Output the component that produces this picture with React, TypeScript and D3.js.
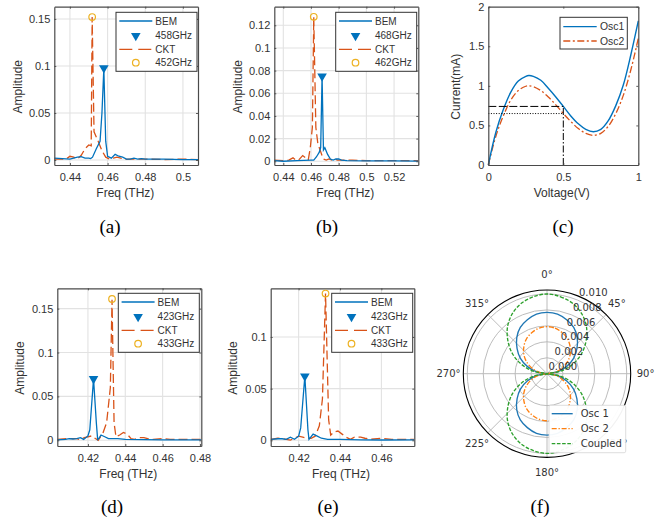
import React, { useEffect, useRef } from 'react';
import * as d3 from 'd3';

// spectra: [freq THz, amplitude]
const bemA = [[0.4317,0.002],[0.436,0.0015],[0.44,0.001],[0.442,0.002],[0.444,0.003],[0.446,0.0035],[0.448,0.002],[0.45,0.002],[0.451,0.0015],[0.452,0.003],[0.454,0.012],[0.456,0.02],[0.457,0.05],[0.458,0.097],[0.459,0.02],[0.46,0.004],[0.462,0.002],[0.464,0.006],[0.466,0.004],[0.468,0.003],[0.47,0.001],[0.472,0.001],[0.474,0.002],[0.476,0.001],[0.478,0.0015],[0.48,0.001],[0.49,0.001],[0.5,0.0005],[0.508,0.0005]];
const cktA = [[0.4317,0.001],[0.436,0.001],[0.438,0.001],[0.44,0.004],[0.442,0.003],[0.444,0.001],[0.446,0.005],[0.448,0.012],[0.45,0.016],[0.4513,0.015],[0.4518,0.152],[0.4528,0.03],[0.455,0.02],[0.457,0.01],[0.459,0.003],[0.461,0.001],[0.463,0.002],[0.465,0.003],[0.467,0.002],[0.469,0.0005],[0.472,0.001],[0.48,0.001],[0.49,0.0005],[0.5,0.001],[0.508,0.0005]];
const bemB = [[0.4335,0.0005],[0.44,0],[0.45,0.0005],[0.455,0.0008],[0.46,0.001],[0.462,0.001],[0.464,0.004],[0.466,0.008],[0.467,0.012],[0.468,0.075],[0.469,0.01],[0.47,0.012],[0.472,0.006],[0.474,0.002],[0.476,0.001],[0.478,0.002],[0.48,0.002],[0.482,0.001],[0.486,0.0005],[0.5,0.0003],[0.52,0.0003],[0.5375,0.0002]];
const cktB = [[0.4335,0.001],[0.44,0.0005],[0.444,0.001],[0.447,0.003],[0.449,0.001],[0.451,0.001],[0.454,0.005],[0.456,0.003],[0.458,0.001],[0.4595,0.012],[0.461,0.03],[0.462,0.127],[0.4635,0.03],[0.465,0.015],[0.466,0.012],[0.468,0.005],[0.469,0.002],[0.471,0.001],[0.473,0.002],[0.475,0.001],[0.477,0.002],[0.479,0.001],[0.49,0.001],[0.5,0.0005],[0.52,0.0005],[0.5375,0.0005]];
const bemD = [[0.4036,0.0005],[0.408,0.001],[0.41,0.002],[0.412,0.0015],[0.414,0.002],[0.416,0.003],[0.4177,0.001],[0.42,0.005],[0.421,0.012],[0.423,0.07],[0.4245,0.02],[0.4252,0.001],[0.4258,0.002],[0.427,0.006],[0.429,0.004],[0.431,0.002],[0.434,0.002],[0.436,0.002],[0.44,0.001],[0.45,0.0008],[0.46,0.0005],[0.47,0.0005],[0.4807,0.0005]];
const cktD = [[0.4036,0.001],[0.41,0.002],[0.414,0.002],[0.416,0.0005],[0.418,0.003],[0.42,0.004],[0.422,0.005],[0.424,0.002],[0.4255,0],[0.428,0.008],[0.43,0.02],[0.432,0.06],[0.4329,0.16],[0.434,0.02],[0.435,0.004],[0.437,0.006],[0.439,0.009],[0.441,0.007],[0.443,0.002],[0.445,0.001],[0.447,0.003],[0.45,0.003],[0.452,0.002],[0.455,0.001],[0.46,0.002],[0.464,0.001],[0.47,0.001],[0.4807,0.001]];
const bemE = [[0.4065,0.001],[0.41,0.0015],[0.412,0.0015],[0.414,0.001],[0.416,0.003],[0.418,0.001],[0.42,0.004],[0.421,0.012],[0.423,0.062],[0.4245,0.01],[0.425,0.001],[0.427,0.006],[0.429,0.004],[0.431,0.002],[0.434,0.001],[0.44,0.001],[0.45,0.0005],[0.46,0.0003],[0.4759,0.0005]];
const cktE = [[0.4065,0.001],[0.41,0.002],[0.414,0.001],[0.416,0.0002],[0.418,0.002],[0.42,0.004],[0.422,0.003],[0.424,0.002],[0.426,0.002],[0.428,0.004],[0.43,0.014],[0.4315,0.04],[0.433,0.142],[0.4345,0.02],[0.4355,0.005],[0.437,0.008],[0.439,0.009],[0.441,0.006],[0.443,0.003],[0.445,0.001],[0.447,0.003],[0.45,0.003],[0.452,0.002],[0.455,0.001],[0.46,0.002],[0.465,0.001],[0.47,0.001],[0.4759,0.001]];

const voltage = [0,0.05,0.1,0.15,0.2,0.25,0.27,0.3,0.35,0.4,0.45,0.5,0.55,0.6,0.65,0.7,0.75,0.8,0.85,0.9,0.95,1];
const osc1Current = [0,0.41,0.7,0.92,1.06,1.12,1.13,1.12,1.07,0.97,0.86,0.74,0.62,0.52,0.45,0.42,0.45,0.56,0.75,1.01,1.39,1.82];
const osc2Current = [0,0.36,0.62,0.82,0.94,0.995,1,0.99,0.94,0.86,0.76,0.65,0.55,0.46,0.4,0.375,0.4,0.49,0.65,0.88,1.2,1.6];

// polar lobes, sampled every 10 degrees across half a turn
const polarAngles = d3.range(0, 360, 10);
const osc1Lobe = [0.0077,0.0076,0.0072,0.0067,0.0059,0.0049,0.00385,0.0026,0.0013,0,0.0013,0.0026,0.00385,0.0049,0.0059,0.0067,0.0072,0.0076];
const osc2Lobe = [0.0059,0.0058,0.0055,0.0051,0.0045,0.0038,0.00295,0.002,0.001,0,0.001,0.002,0.00295,0.0038,0.0045,0.0051,0.0055,0.0058];
const coupledLobe = [0.01,0.0098,0.0094,0.0087,0.0077,0.0064,0.005,0.0034,0.0017,0,0.0017,0.0034,0.005,0.0064,0.0077,0.0087,0.0094,0.0098];
const polarRings = [0.002,0.004,0.006,0.008,0.01];
const polarRingLabels = ['0.000','0.002','0.004','0.006','0.008','0.010'];
const polarSpokes = [0,45,90,135,180,225,270,315];

const BLUE = '#0072BD';
const ORANGE = '#D95319';
const YELLOW = '#EDB120';
const INK = '#333333';
const SANS = '"Liberation Sans", Arial, sans-serif';
const CKT_DASH = '9 4';

const spectra = [
  { x0: 54.3, x1: 198, y0: 6.7, y1: 165, xd: [0.4317, 0.508], yd: [-0.0053, 0.163], xt: [0.44,0.46,0.48,0.5], yt: [0,0.05,0.1,0.15], bem: bemA, ckt: cktA, names: ['458GHz','452GHz'], peakA: [0.458,0.0979], peakB: [0.4518,0.152], lx: 116, ly: 12.3, ylx: 22, xlx: 125.3, yly: 86.7 },
  { x0: 274.3, x1: 418.3, y0: 6.7, y1: 165, xd: [0.4335, 0.5375], yd: [-0.0033, 0.1364], xt: [0.44,0.46,0.48,0.5,0.52], yt: [0,0.02,0.04,0.06,0.08,0.1,0.12], bem: bemB, ckt: cktB, names: ['468GHz','462GHz'], peakA: [0.468,0.075], peakB: [0.462,0.1275], lx: 335.7, ly: 12.3, ylx: 242, xlx: 345.3, yly: 86.7 },
  { x0: 57.3, x1: 201.3, y0: 288.3, y1: 446, xd: [0.4036, 0.4807], yd: [-0.0065, 0.1732], xt: [0.42,0.44,0.46,0.48], yt: [0,0.05,0.1,0.15], bem: bemD, ckt: cktD, names: ['423GHz','433GHz'], peakA: [0.423,0.07], peakB: [0.4329,0.161], lx: 118.3, ly: 293.3, ylx: 24.3, xlx: 128.3, yly: 368 },
  { x0: 270.7, x1: 414.3, y0: 288.3, y1: 446, xd: [0.4065, 0.4759], yd: [-0.0055, 0.1471], xt: [0.42,0.44,0.46], yt: [0,0.05,0.1], bem: bemE, ckt: cktE, names: ['423GHz','433GHz'], peakA: [0.423,0.062], peakB: [0.433,0.142], lx: 331.7, ly: 293.3, ylx: 237.3, xlx: 341, yly: 368 },
];

const captions = [
  { t: '(a)', x: 110, y: 233 }, { t: '(b)', x: 327, y: 233 }, { t: '(c)', x: 563, y: 233 },
  { t: '(d)', x: 112, y: 513 }, { t: '(e)', x: 328, y: 513 }, { t: '(f)', x: 540, y: 513 },
];

type Sel = d3.Selection<SVGGElement, unknown, null, undefined>;

function frame(root: Sel, x: any, y: any, xt: number[], yt: number[]) {
  const [x0, x1] = x.range();
  const [y1, y0] = y.range();
  const fmt = (d: any) => String(d);
  const style = (g: any, labels: boolean) => {
    g.selectAll('.domain').attr('stroke', '#4a4a4a').attr('stroke-width', 1.2);
    g.selectAll('.tick line').attr('stroke', '#4a4a4a').attr('stroke-width', 0.9);
    g.selectAll('.tick text').attr('fill', INK).style('font', `11px ${SANS}`);
    if (!labels) g.selectAll('.tick text').remove();
  };
  root.append('g').attr('transform', `translate(0,${y1})`)
    .call(d3.axisBottom(x).tickValues(xt).tickFormat(fmt).tickSizeInner(-2).tickSizeOuter(0).tickPadding(8) as any)
    .call(style as any, true);
  root.append('g').attr('transform', `translate(${x0},0)`)
    .call(d3.axisLeft(y).tickValues(yt).tickFormat(fmt).tickSizeInner(-2).tickSizeOuter(0).tickPadding(4) as any)
    .call(style as any, true);
  root.append('g').attr('transform', `translate(0,${y0})`)
    .call(d3.axisTop(x).tickValues(xt).tickSizeInner(-2).tickSizeOuter(0) as any)
    .call(style as any, false);
  root.append('g').attr('transform', `translate(${x1},0)`)
    .call(d3.axisRight(y).tickValues(yt).tickSizeInner(-2).tickSizeOuter(0) as any)
    .call(style as any, false);
}

function axisTitle(root: Sel, text: string, x: number, y: number, rotate = false) {
  root.append('text')
    .attr('transform', `translate(${x},${y})${rotate ? ' rotate(-90)' : ''}`)
    .attr('text-anchor', 'middle')
    .attr('fill', INK)
    .style('font', `12px ${SANS}`)
    .text(text);
}

function drawSpectrum(root: Sel, p: typeof spectra[number], id: string) {
  const x = d3.scaleLinear().domain(p.xd).range([p.x0, p.x1]);
  const y = d3.scaleLinear().domain(p.yd).range([p.y1, p.y0]);

  root.append('clipPath').attr('id', id).append('rect')
    .attr('x', p.x0).attr('y', p.y0).attr('width', p.x1 - p.x0).attr('height', p.y1 - p.y0);

  const grid = root.append('g').attr('stroke', '#e2e2e2').attr('stroke-width', 1.1);
  p.xt.forEach((t) => grid.append('line').attr('x1', x(t)).attr('x2', x(t)).attr('y1', p.y0).attr('y2', p.y1));
  p.yt.forEach((t) => grid.append('line').attr('x1', p.x0).attr('x2', p.x1).attr('y1', y(t)).attr('y2', y(t)));

  const line = d3.line<number[]>().x((d) => x(d[0])).y((d) => y(d[1]));
  const plot = root.append('g').attr('clip-path', `url(#${id})`);
  plot.append('path').attr('d', line(p.ckt as number[][])).attr('fill', 'none')
    .attr('stroke', ORANGE).attr('stroke-width', 1.3).attr('stroke-dasharray', CKT_DASH);
  plot.append('path').attr('d', line(p.bem as number[][])).attr('fill', 'none')
    .attr('stroke', BLUE).attr('stroke-width', 1.3);

  frame(root, x, y, p.xt, p.yt);

  const tri = d3.symbol().type(d3.symbolTriangle).size(40)();
  root.append('path').attr('d', tri).attr('fill', BLUE)
    .attr('transform', `translate(${x(p.peakA[0])},${y(p.peakA[1])}) rotate(180)`);
  root.append('circle').attr('cx', x(p.peakB[0])).attr('cy', y(p.peakB[1])).attr('r', 3.3)
    .attr('fill', 'none').attr('stroke', YELLOW).attr('stroke-width', 1.2);

  // legend
  const lg = root.append('g').attr('transform', `translate(${p.lx},${p.ly})`);
  lg.append('rect').attr('width', 81).attr('height', 59).attr('fill', '#fff')
    .attr('stroke', '#333').attr('stroke-width', 1);
  const rows = [8.7, 23.4, 37, 50.4];
  const labels = ['BEM', p.names[0], 'CKT', p.names[1]];
  labels.forEach((s, i) => {
    lg.append('text').attr('x', 39.3).attr('y', rows[i] + 3.6).attr('fill', INK)
      .style('font', `10px ${SANS}`).text(s);
  });
  lg.append('line').attr('x1', 3.3).attr('x2', 36.3).attr('y1', rows[0]).attr('y2', rows[0])
    .attr('stroke', BLUE).attr('stroke-width', 1.3);
  lg.append('line').attr('x1', 3.3).attr('x2', 36.3).attr('y1', rows[2]).attr('y2', rows[2])
    .attr('stroke', ORANGE).attr('stroke-width', 1.3).attr('stroke-dasharray', '13 6');
  lg.append('path').attr('d', tri).attr('fill', BLUE)
    .attr('transform', `translate(19.8,${rows[1]}) rotate(180)`);
  lg.append('circle').attr('cx', 19.8).attr('cy', rows[3]).attr('r', 3.3)
    .attr('fill', 'none').attr('stroke', YELLOW).attr('stroke-width', 1.2);

  axisTitle(root, 'Freq (THz)', p.xlx, p.y1 + 31.5);
  axisTitle(root, 'Amplitude', p.ylx, p.yly, true);
}

function drawCurrent(root: Sel) {
  const x = d3.scaleLinear().domain([0, 1]).range([488.3, 638.3]);
  const y = d3.scaleLinear().domain([0, 2]).range([165, 6.7]);
  const line = d3.line<number>().x((_, i) => x(voltage[i])).y((d) => y(d)).curve(d3.curveCatmullRom);

  root.append('path').attr('d', line(osc2Current)).attr('fill', 'none')
    .attr('stroke', ORANGE).attr('stroke-width', 1.3).attr('stroke-dasharray', '7 2.5 2 2.5');
  root.append('path').attr('d', line(osc1Current)).attr('fill', 'none')
    .attr('stroke', BLUE).attr('stroke-width', 1.4);

  const ref = (x1: number, y1: number, x2: number, y2: number, dash: string) =>
    root.append('line').attr('x1', x(x1)).attr('x2', x(x2)).attr('y1', y(y1)).attr('y2', y(y2))
      .attr('stroke', '#000').attr('stroke-width', 1).attr('stroke-dasharray', dash);
  ref(0, 0.74, 0.5, 0.74, '8 2.5');
  ref(0, 0.65, 0.5, 0.65, '1 1.6');
  ref(0.5, 0, 0.5, 0.74, '7 2 1.5 2');

  frame(root, x, y, [0, 0.5, 1], [0, 0.5, 1, 1.5, 2]);

  const lg = root.append('g').attr('transform', 'translate(560,17.3)');
  lg.append('rect').attr('width', 67.3).attr('height', 31.7).attr('fill', '#fff')
    .attr('stroke', '#333').attr('stroke-width', 1);
  [['Osc1', BLUE, ''], ['Osc2', ORANGE, '7 2.5 2 2.5']].forEach(([s, c, dash], i) => {
    const yy = 9.4 + i * 14.3;
    lg.append('line').attr('x1', 3.3).attr('x2', 36.7).attr('y1', yy).attr('y2', yy)
      .attr('stroke', c).attr('stroke-width', 1.3).attr('stroke-dasharray', dash);
    lg.append('text').attr('x', 40).attr('y', yy + 3.7).attr('fill', INK)
      .style('font', `10.4px ${SANS}`).text(s);
  });

  axisTitle(root, 'Voltage(V)', 561.7, 196.5);
  axisTitle(root, 'Current(mA)', 460, 86.7, true);
}

function drawPolar(root: Sel) {
  const DEJAVU = '"DejaVu Sans", sans-serif';
  const R = 83.7;
  const r = d3.scaleLinear().domain([0, 0.0105]).range([0, R]);
  const g = root.append('g').attr('transform', 'translate(547,373.7)');

  polarRings.forEach((v) => g.append('circle').attr('r', r(v)).attr('fill', 'none')
    .attr('stroke', '#b4b4b4').attr('stroke-width', 0.9));
  polarSpokes.forEach((a) => {
    const t = (a * Math.PI) / 180;
    g.append('line').attr('x2', R * Math.sin(t)).attr('y2', -R * Math.cos(t))
      .attr('stroke', '#b4b4b4').attr('stroke-width', 0.9);
  });

  const radial = d3.lineRadial<number>()
    .angle((_, i) => (polarAngles[i] * Math.PI) / 180)
    .radius((d) => r(d))
    .curve(d3.curveCatmullRomClosed);
  const series: [number[], string, string][] = [
    [osc1Lobe, '#1f77b4', ''],
    [osc2Lobe, '#ff7f0e', '5 1.8 1.3 1.8'],
    [coupledLobe, '#2ca02c', '3.6 1.6'],
  ];
  series.forEach(([lobe, c, dash]) => {
    g.append('path').attr('d', radial([...lobe, ...lobe])).attr('fill', 'none')
      .attr('stroke', c).attr('stroke-width', 1.35).attr('stroke-dasharray', dash);
  });

  g.append('circle').attr('r', R).attr('fill', 'none').attr('stroke', '#000').attr('stroke-width', 1.1);

  polarRingLabels.forEach((s, i) => {
    const v = i * 0.002;
    const t = (22.5 * Math.PI) / 180;
    g.append('text').attr('x', r(v) * Math.sin(t) + 1.5).attr('y', -r(v) * Math.cos(t) - 3.8)
      .attr('fill', INK).style('font', `10px ${DEJAVU}`).text(s);
  });

  const degs = [
    { s: '0°', x: 547, y: 278, a: 'middle' }, { s: '45°', x: 608, y: 306.7, a: 'start' },
    { s: '90°', x: 636.7, y: 377, a: 'start' }, { s: '135°', x: 603.5, y: 447, a: 'start' },
    { s: '180°', x: 547, y: 476, a: 'middle' }, { s: '225°', x: 477, y: 447, a: 'middle' },
    { s: '270°', x: 460.5, y: 377, a: 'end' }, { s: '315°', x: 477, y: 307, a: 'middle' },
  ];
  degs.forEach((d) => root.append('text').attr('x', d.x).attr('y', d.y).attr('text-anchor', d.a)
    .attr('fill', INK).style('font', `10px ${DEJAVU}`).text(d.s));

  const lg = root.append('g').attr('transform', 'translate(549,405.3)');
  lg.append('rect').attr('width', 76.7).attr('height', 47.4).attr('rx', 1.5)
    .attr('fill', '#fff').attr('fill-opacity', 0.95).attr('stroke', '#d0d0d0').attr('stroke-width', 0.7);
  ['Osc 1', 'Osc 2', 'Coupled'].forEach((s, i) => {
    const yy = 8.4 + i * 15;
    lg.append('line').attr('x1', 2.7).attr('x2', 23.7).attr('y1', yy).attr('y2', yy)
      .attr('stroke', series[i][1]).attr('stroke-width', 1.35).attr('stroke-dasharray', series[i][2]);
    lg.append('text').attr('x', 31.7).attr('y', yy + 3.6).attr('fill', INK)
      .style('font', `10px ${DEJAVU}`).text(s);
  });
}

export default function App() {
  const ref = useRef<SVGSVGElement>(null);

  useEffect(() => {
    if (!ref.current) return;
    const svg = d3.select(ref.current);
    svg.selectAll('*').remove();
    const root = svg.append('g') as unknown as Sel;

    spectra.forEach((p, i) => drawSpectrum(root, p, `clip-${i}`));
    drawCurrent(root);
    drawPolar(root);

    captions.forEach((c) => root.append('text').attr('x', c.x).attr('y', c.y)
      .attr('text-anchor', 'middle').attr('fill', '#000')
      .style('font', '19px "Liberation Serif", serif').text(c.t));
  }, []);

  return (
    <svg ref={ref} width={660} height={520}
      style={{ position: 'absolute', left: 0, top: 0, background: '#fff', display: 'block' }} />
  );
}
